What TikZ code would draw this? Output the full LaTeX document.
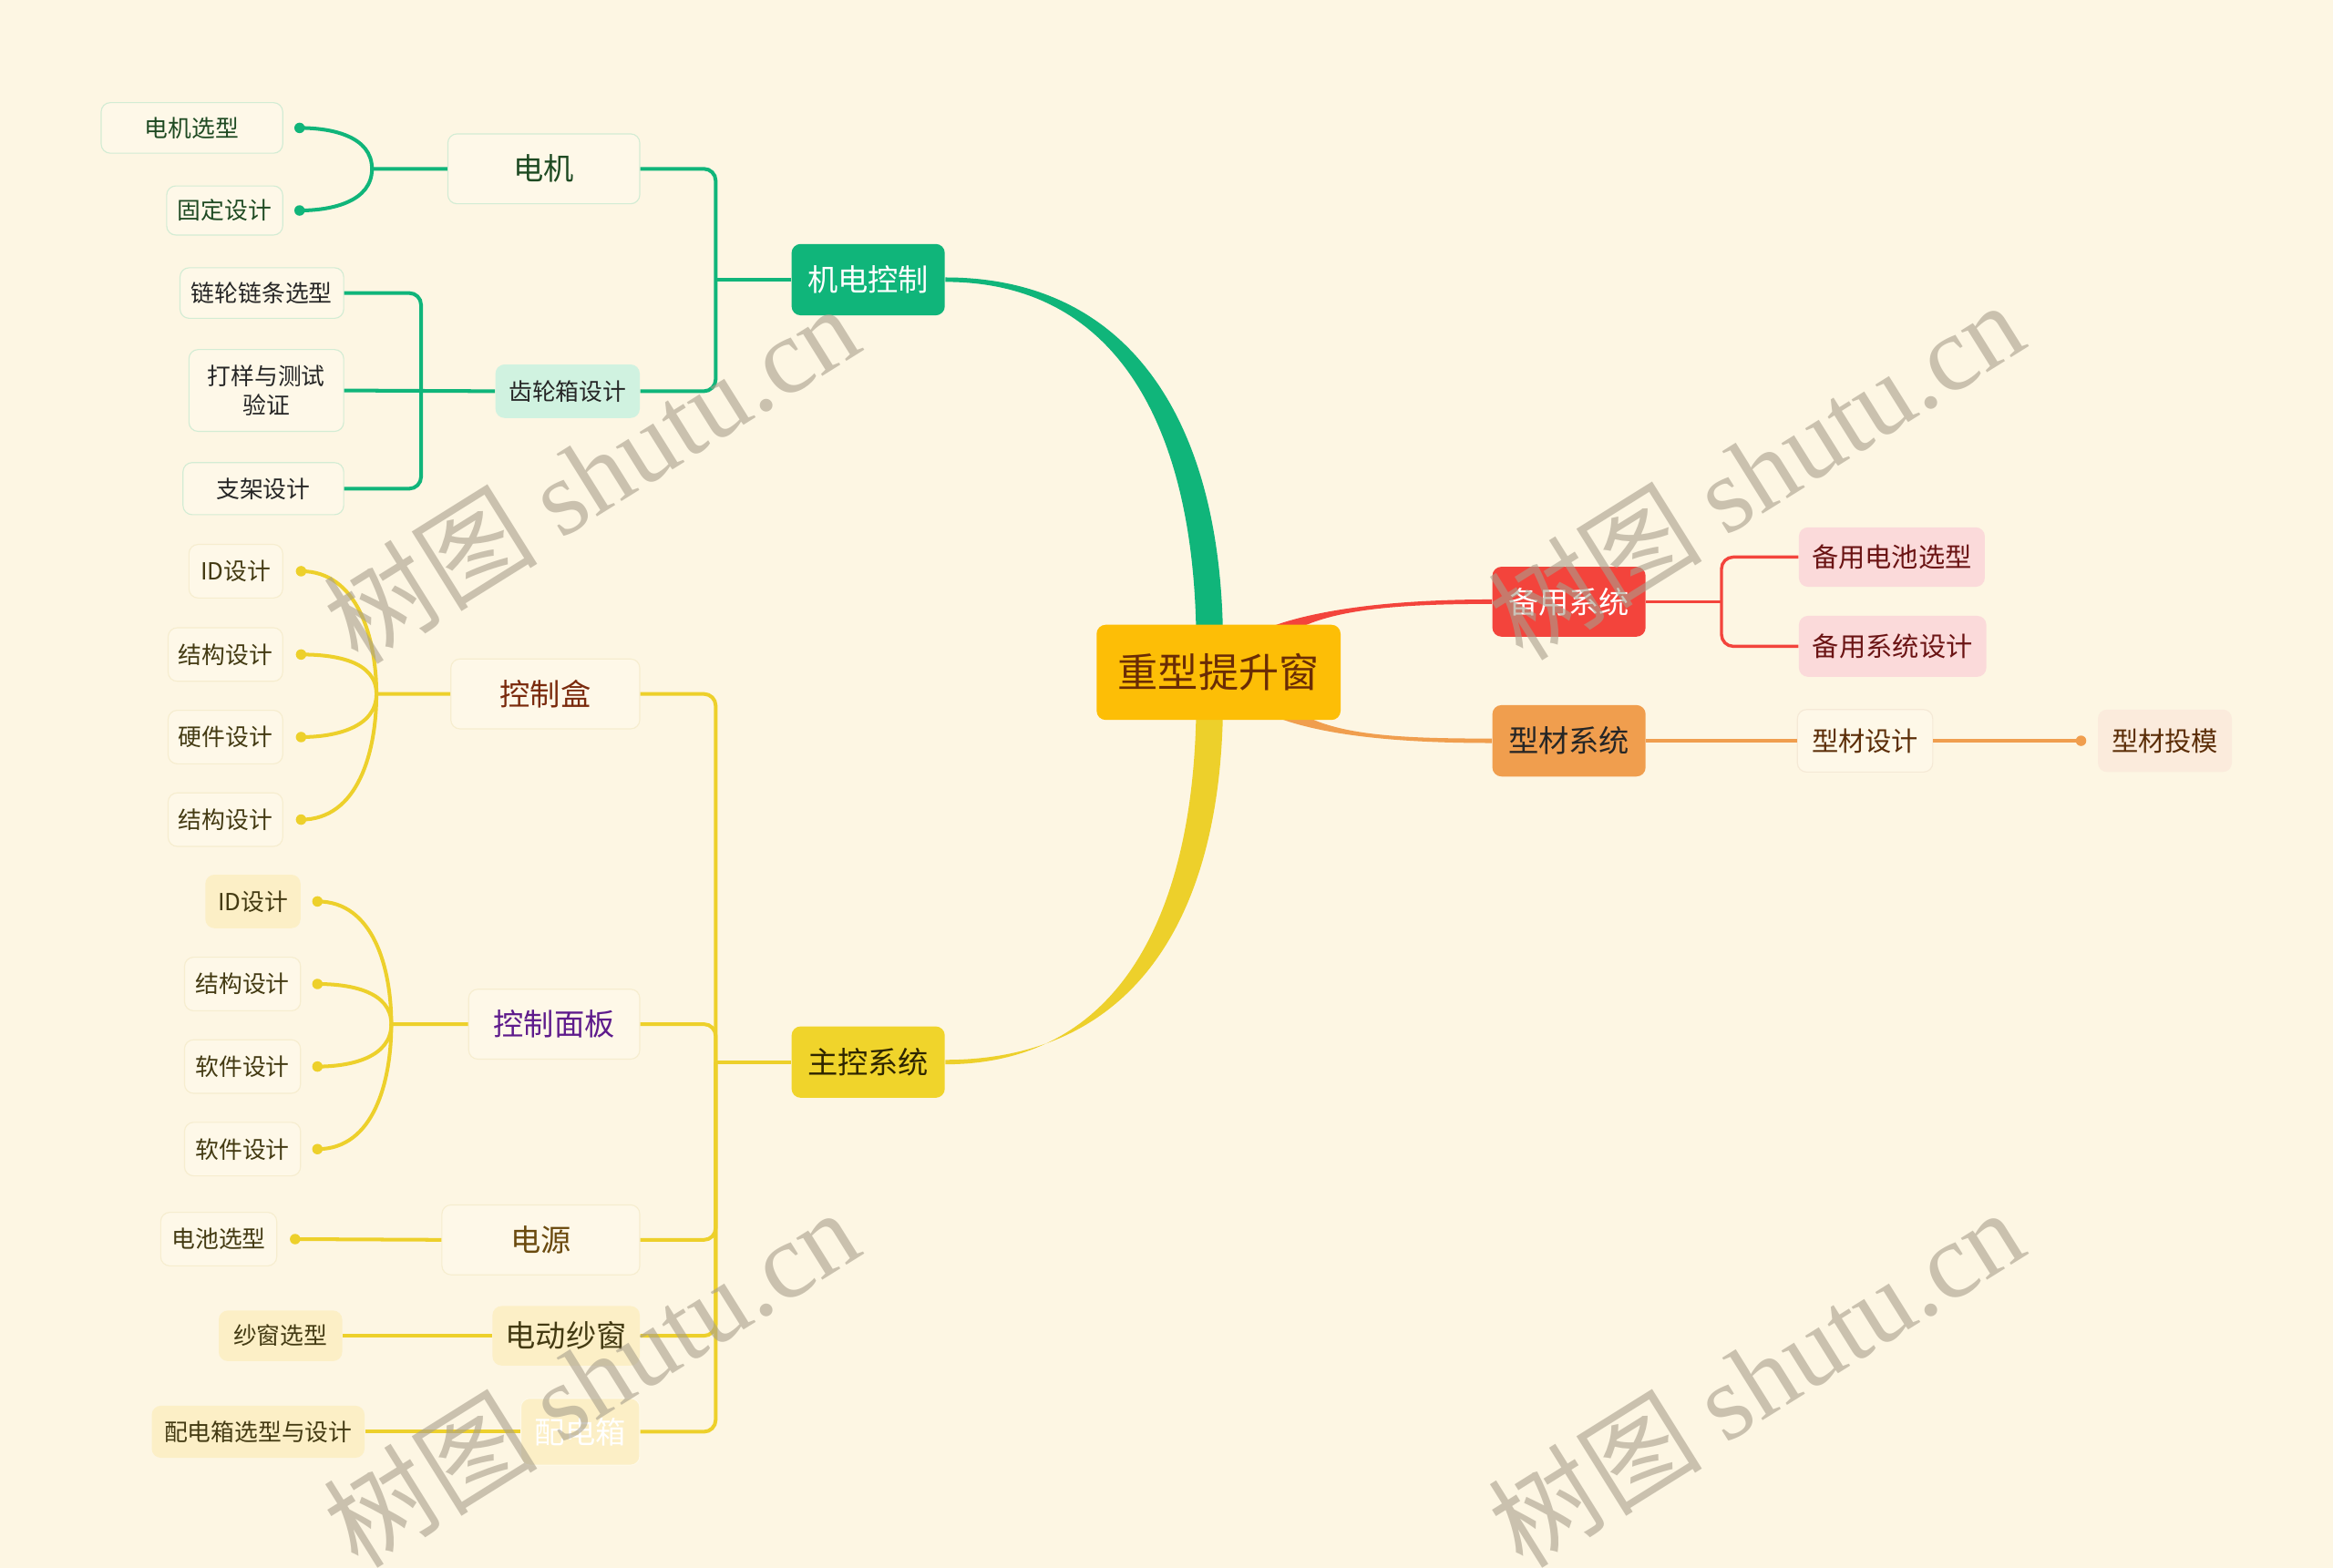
\documentclass[tikz,border=0pt]{standalone}
\usepackage{fontspec}
\setmainfont{Noto Sans CJK SC}
\newfontfamily\wmfont{Liberation Serif}
\usetikzlibrary{calc,backgrounds}

\definecolor{bgcream}{HTML}{FDF6E3}
\definecolor{rootfill}{HTML}{FDBE06}
\definecolor{roottext}{HTML}{6A2C05}
\definecolor{gbranch}{HTML}{10B57A}
\definecolor{gborder}{HTML}{D3ECD4}
\definecolor{gtext}{HTML}{1E4A22}
\definecolor{gmint}{HTML}{D0F2E0}
\definecolor{ybranch}{HTML}{EDD02B}
\definecolor{yfill}{HTML}{F0D42B}
\definecolor{ytext}{HTML}{2E2500}
\definecolor{yborder}{HTML}{F6EDCF}
\definecolor{ylight}{HTML}{FCEFC6}
\definecolor{leaffill}{HTML}{FEF8E8}
\definecolor{kzhtext}{HTML}{7A2A0C}
\definecolor{mbtext}{HTML}{5E1B8C}
\definecolor{dytext}{HTML}{6A4A0E}
\definecolor{yleaftext}{HTML}{433A12}
\definecolor{rbranch}{HTML}{F3443C}
\definecolor{rpink}{HTML}{FBDADA}
\definecolor{rtext}{HTML}{6B1414}
\definecolor{obranch}{HTML}{F09E4E}
\definecolor{oborder}{HTML}{F5E9D6}
\definecolor{opeach}{HTML}{FBEBDC}
\definecolor{otext}{HTML}{5C2E08}
\definecolor{wmgray}{HTML}{A89F8C}

\tikzset{
  topic/.style={rounded corners=3.5pt, inner sep=0pt, align=center},
  sz/.style 2 args={minimum width=#1*0.02cm, minimum height=#2*0.02cm},
  roottxt/.style={font=\fontsize{15.4}{17}\selectfont},
  maintxt/.style={font=\fontsize{11.6}{13}\selectfont},
  leaftxt/.style={font=\fontsize{9}{11.4}\selectfont},
  sidetxt/.style={font=\fontsize{10.2}{12}\selectfont},
  gline/.style={draw=gbranch, line width=1.4pt},
  yline/.style={draw=ybranch, line width=1.4pt},
  rline/.style={draw=rbranch, line width=1.2pt},
  oline/.style={draw=obranch, line width=1.2pt},
  gdot/.style={circle, fill=gbranch, inner sep=0pt, minimum size=4pt},
  ydot/.style={circle, fill=ybranch, inner sep=0pt, minimum size=4pt},
  odot/.style={circle, fill=obranch, inner sep=0pt, minimum size=4pt},
  wmark/.style={text=wmgray, text opacity=0.6, font=\fontsize{41}{41}\selectfont, rotate=32}
}

\begin{document}
\begin{tikzpicture}[x=0.02cm, y=-0.02cm]
  \begin{pgfonlayer}{background}
    \fill[bgcream] (0,0) rectangle (1568,1054);
  \end{pgfonlayer}
  \useasboundingbox (0,0) rectangle (1568,1054);

  % central topic and main branches
  \node[topic, roottxt, fill=rootfill, text=roottext, sz={164}{64}] (root) at (819,452) {重型提升窗};
  \node[topic, maintxt, fill=gbranch, text=white, sz={103}{48}] (jidian) at (583.5,188) {机电控制};
  \node[topic, maintxt, fill=yfill, text=ytext, sz={103}{48}] (zhukong) at (583.5,714) {主控系统};
  \node[topic, maintxt, fill=rbranch, text=white, sz={103}{47}] (beiyong) at (1054.5,404.5) {备用系统};
  \node[topic, maintxt, fill=obranch, text=black!85, sz={103}{48}] (xingcai) at (1054.5,498) {型材系统};

  % tapered bands from the centre
  \begin{pgfonlayer}{background}
    \fill[gbranch] ($(jidian.east)+(0,-1.5)$) .. controls +(125,0) and +(0,-150) .. ($(root.north)+(3,15)$)
      -- ++(-18,0) .. controls +(0,-140) and +(120,0) .. ($(jidian.east)+(0,1.5)$) -- cycle;
    \fill[ybranch] ($(zhukong.east)+(0,-1.5)$) .. controls +(125,0) and +(0,150) .. ($(root.south)+(3,-15)$)
      -- ++(-18,0) .. controls +(0,140) and +(120,0) .. ($(zhukong.east)+(0,1.5)$) -- cycle;
    \fill[rbranch] ($(beiyong.west)+(0,-1.5)$) .. controls +(-75,0) and +(30,-18) .. ($(root.north east)+(-65,10)$)
      -- ++(25,0) .. controls +(25,-20) and +(-65,0) .. ($(beiyong.west)+(0,1.5)$) -- cycle;
    \fill[obranch] ($(xingcai.west)+(0,-1.5)$) .. controls +(-65,0) and +(25,20) .. ($(root.south east)+(-35,-10)$)
      -- ++(-25,0) .. controls +(30,18) and +(-75,0) .. ($(xingcai.west)+(0,1.5)$) -- cycle;
  \end{pgfonlayer}

  % 机电控制
  \node[topic, maintxt, fill=leaffill, draw=gborder, text=gtext, sz={129}{47}] (dianji) at (365.5,113.5) {电机};
  \node[topic, leaftxt, fill=gmint, text=black!85, sz={97}{36}] (chilun) at (381.5,263) {齿轮箱设计};
  \node[topic, leaftxt, fill=leaffill, draw=gborder, text=gtext, sz={122}{34}] (djxx) at (129,86) {电机选型};
  \node[topic, leaftxt, fill=leaffill, draw=gborder, text=gtext, sz={78}{33}] (gdsj) at (151,141.5) {固定设计};
  \node[topic, leaftxt, fill=leaffill, draw=gborder, text=black!85, sz={110}{34}] (llxz) at (176,197) {链轮链条选型};
  \node[topic, leaftxt, fill=leaffill, draw=gborder, text=black!85, sz={104}{55}] (dyyz) at (179,262.5) {打样与测试\\验证};
  \node[topic, leaftxt, fill=leaffill, draw=gborder, text=black!85, sz={108}{35}] (zjsj) at (177,328.5) {支架设计};
  \coordinate (jjd) at (481,188);
  \coordinate (jdj) at (250,113.5);
  \coordinate (jcl) at (283,262.5);
  \node[gdot] (djxxd) at ($(djxx.east)+(11,0)$) {};
  \node[gdot] (gdsjd) at ($(gdsj.east)+(11,0)$) {};

  \draw[gline, rounded corners=4.5pt] (dianji.east) -| (jjd) |- (chilun.east);
  \draw[gline] (jjd) -- (jidian.west);
  \draw[gline] (djxxd.center) to[out=0, in=90] (jdj) -- (dianji.west);
  \draw[gline] (gdsjd.center) to[out=0, in=-90] (jdj);
  \draw[gline, rounded corners=4.5pt] (llxz.east) -| (jcl) |- (zjsj.east);
  \draw[gline] (dyyz.east) -- (chilun.west);

  % 主控系统
  \node[topic, maintxt, fill=leaffill, draw=yborder, text=kzhtext, sz={127}{47}] (kzh) at (366.5,466.5) {控制盒};
  \node[topic, maintxt, fill=leaffill, draw=yborder, text=mbtext, sz={115}{47}] (kzmb) at (372.5,688.5) {控制面板};
  \node[topic, maintxt, fill=leaffill, draw=yborder, text=dytext, sz={133}{47}] (dy) at (363.5,833.5) {电源};
  \node[topic, maintxt, fill=ylight, text=yleaftext, sz={99}{40}] (ddsc) at (380.5,898) {电动纱窗};
  \node[topic, maintxt, fill=ylight, draw=white!60!ylight, text=white, sz={80}{45}] (pdx) at (390,962.5) {配电箱};

  \node[topic, leaftxt, fill=leaffill, draw=yborder, text=yleaftext, sz={63}{36}] (kzid) at (158.5,384) {ID设计};
  \node[topic, leaftxt, fill=leaffill, draw=yborder, text=yleaftext, sz={77}{36}] (kzjga) at (151.5,440) {结构设计};
  \node[topic, leaftxt, fill=leaffill, draw=yborder, text=yleaftext, sz={77}{36}] (kzyj) at (151.5,495.5) {硬件设计};
  \node[topic, leaftxt, fill=leaffill, draw=yborder, text=yleaftext, sz={77}{36}] (kzjgb) at (151.5,551) {结构设计};
  \node[topic, leaftxt, fill=ylight, text=yleaftext, sz={64}{36}] (mbid) at (170,606) {ID设计};
  \node[topic, leaftxt, fill=leaffill, draw=yborder, text=yleaftext, sz={78}{36}] (mbjg) at (163,661.5) {结构设计};
  \node[topic, leaftxt, fill=leaffill, draw=yborder, text=yleaftext, sz={78}{36}] (mbrja) at (163,717) {软件设计};
  \node[topic, leaftxt, fill=leaffill, draw=yborder, text=yleaftext, sz={78}{36}] (mbrjb) at (163,772.5) {软件设计};
  \node[topic, leaftxt, fill=leaffill, draw=yborder, text=yleaftext, sz={78}{36}] (dcxx) at (147,833) {电池选型};
  \node[topic, leaftxt, fill=ylight, text=yleaftext, sz={83}{34}] (scxx) at (188.5,898) {纱窗选型};
  \node[topic, leaftxt, fill=ylight, text=yleaftext, sz={143}{35}] (pdxx) at (173.5,962.5) {配电箱选型与设计};

  \coordinate (jzk) at (481,714);
  \coordinate (jkz) at (253,466.5);
  \coordinate (jmb) at (263,688.5);
  \node[ydot] (kzidd) at ($(kzid.east)+(12,0)$) {};
  \node[ydot] (kzjgad) at ($(kzjga.east)+(12,0)$) {};
  \node[ydot] (kzyjd) at ($(kzyj.east)+(12,0)$) {};
  \node[ydot] (kzjgbd) at ($(kzjgb.east)+(12,0)$) {};
  \node[ydot] (mbidd) at ($(mbid.east)+(11,0)$) {};
  \node[ydot] (mbjgd) at ($(mbjg.east)+(11,0)$) {};
  \node[ydot] (mbrjad) at ($(mbrja.east)+(11,0)$) {};
  \node[ydot] (mbrjbd) at ($(mbrjb.east)+(11,0)$) {};
  \node[ydot] (dcxxd) at ($(dcxx.east)+(12,0)$) {};

  \draw[yline, rounded corners=4.5pt] (kzh.east) -| (jzk) |- (pdx.east);
  \draw[yline, rounded corners=4.5pt] (kzmb.east) -| (jzk);
  \draw[yline, rounded corners=4.5pt] (dy.east) -| (jzk);
  \draw[yline, rounded corners=4.5pt] (ddsc.east) -| (jzk);
  \draw[yline] (jzk) -- (zhukong.west);

  \draw[yline] (kzidd.center) to[out=0, in=90] (jkz) -- (kzh.west);
  \draw[yline] (kzjgad.center) to[out=0, in=90] (jkz);
  \draw[yline] (kzyjd.center) to[out=0, in=-90] (jkz);
  \draw[yline] (kzjgbd.center) to[out=0, in=-90] (jkz);
  \draw[yline] (mbidd.center) to[out=0, in=90] (jmb) -- (kzmb.west);
  \draw[yline] (mbjgd.center) to[out=0, in=90] (jmb);
  \draw[yline] (mbrjad.center) to[out=0, in=-90] (jmb);
  \draw[yline] (mbrjbd.center) to[out=0, in=-90] (jmb);
  \draw[yline] (dcxxd.center) -- (dy.west);
  \draw[yline] (scxx.east) -- (ddsc.west);
  \draw[yline] (pdxx.east) -- (pdx.west);

  % 备用系统 / 型材系统
  \node[topic, sidetxt, fill=rpink, text=rtext, sz={125}{40}] (bydc) at (1271.5,374.5) {备用电池选型};
  \node[topic, sidetxt, fill=rpink, text=rtext, sz={126}{41}] (byxs) at (1272,434.5) {备用系统设计};
  \node[topic, sidetxt, fill=leaffill, draw=oborder, text=otext, sz={91}{42}] (xcsj) at (1253.5,498) {型材设计};
  \node[topic, sidetxt, fill=opeach, text=otext, sz={90}{42}] (xctm) at (1455,498) {型材投模};
  \coordinate (jby) at (1157,404.5);
  \node[odot] (xctmd) at ($(xctm.west)+(-11,0)$) {};

  \draw[rline] (beiyong.east) -- (jby);
  \draw[rline, rounded corners=4.5pt] (bydc.west) -| (jby) |- (byxs.west);
  \draw[oline] (xingcai.east) -- (xcsj.west);
  \draw[oline] (xcsj.east) -- (xctmd.center);

  % watermark
  \node[wmark] (wma) at (397,318) {树图 {\wmfont shutu.cn}};
  \node[wmark] (wmb) at (1180,316) {树图 {\wmfont shutu.cn}};
  \node[wmark] (wmc) at (397,926) {树图 {\wmfont shutu.cn}};
  \node[wmark] (wmd) at (1180,926) {树图 {\wmfont shutu.cn}};
\end{tikzpicture}
\end{document}
